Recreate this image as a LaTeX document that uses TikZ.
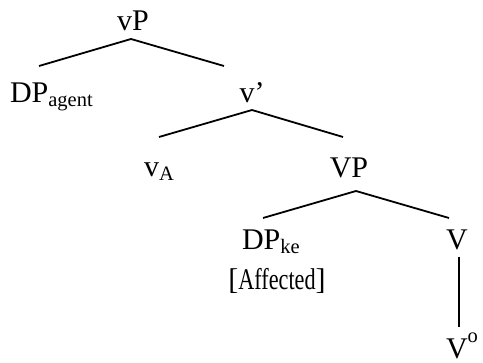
\documentclass[tikz,border=0pt]{standalone}
\usepackage{fontspec}
\setmainfont{Liberation Serif}
\newcommand{\mainsz}{\fontsize{30}{34}\selectfont}
\newcommand{\subsz}{\fontsize{20.5}{24}\selectfont}
\newcommand{\lowsub}[1]{\raisebox{-4pt}{\subsz #1}}
\newcommand{\highsup}[1]{\raisebox{16pt}{\subsz #1}}
\begin{document}
\begin{tikzpicture}[x=1pt,y=-1pt,
  lab/.style={inner sep=0pt,outer sep=0pt,font=\mainsz},
  branch/.style={line width=1.8pt}]
\useasboundingbox (0,0) rectangle (483,363);
% labels
\node[lab,anchor=base] (vP) at (133,31) {vP};
\node[lab,anchor=base west] (DPa) at (10,103) {DP\lowsub{agent}};
\node[lab,anchor=base] (vbar) at (252,103) {v’};
\node[lab,anchor=base west] (vA) at (144,177) {v\lowsub{A}};
\node[lab,anchor=base] (VP) at (349,178) {VP};
\node[lab,anchor=base west] (DPke) at (242,250) {DP\lowsub{ke}};
\node[lab,anchor=base] (aff) at (277,290) {[\scalebox{0.74}[1]{Affected}]};
\node[lab,anchor=base] (V) at (457,250) {V};
\node[lab,anchor=base west] (V0) at (446,359) {V\highsup{o}};
% joints
\coordinate (vP-t) at (131,39);
\coordinate (DPa-t) at (39,66);
\coordinate (vbar-b) at (224,66);
\coordinate (vbar-t) at (252,110);
\coordinate (vA-t) at (159,137);
\coordinate (VP-b) at (343,137);
\coordinate (VP-t) at (356,191);
\coordinate (DPke-t) at (263,218);
\coordinate (V-b) at (449,218);
\coordinate (V-t) at (459,257);
\coordinate (V0-b) at (459,327);
% branches
\draw[branch] (DPa-t) -- (vP-t) -- (vbar-b);
\draw[branch] (vA-t) -- (vbar-t) -- (VP-b);
\draw[branch] (DPke-t) -- (VP-t) -- (V-b);
\draw[branch] (V-t) -- (V0-b);
\end{tikzpicture}
\end{document}
